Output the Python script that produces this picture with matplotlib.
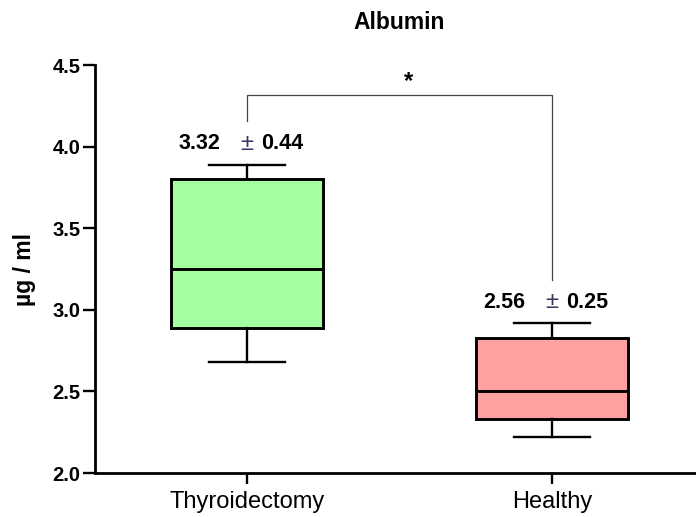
import matplotlib.pyplot as plt

plt.rcParams['font.family'] = ['Liberation Sans', 'DejaVu Sans']

# Data
groups = ['Thyroidectomy', 'Healthy']
whisker_low = [2.68, 2.22]
q1 = [2.89, 2.33]
medians = [3.25, 2.50]
q3 = [3.80, 2.83]
whisker_high = [3.89, 2.92]
means = ['3.32', '2.56']
sds = ['0.44', '0.25']
box_colors = ['#a3ff9f', '#ffa1a1']

bracket_top = 4.316
leg_gap = 0.265

fig = plt.figure(figsize=(6.96, 5.17), dpi=100)
ax = fig.add_axes([0.1365, 0.0851, 0.8635, 0.789])

stats = []
for i in range(len(groups)):
    stats.append({'whislo': whisker_low[i], 'q1': q1[i], 'med': medians[i],
                  'q3': q3[i], 'whishi': whisker_high[i], 'label': groups[i]})

bp = ax.bxp(stats, positions=[0, 1], widths=0.5, capwidths=0.25,
            showfliers=False, patch_artist=True,
            boxprops=dict(linewidth=2.1, edgecolor='black'),
            medianprops=dict(linewidth=2.1, color='black'),
            whiskerprops=dict(linewidth=1.7, color='black'),
            capprops=dict(linewidth=1.7, color='black'))
for patch, c in zip(bp['boxes'], box_colors):
    patch.set_facecolor(c)

# mean +- sd labels above each box
for i in range(len(groups)):
    ax.annotate(means[i], (i, whisker_high[i]), xytext=(-19, 15),
                textcoords='offset points', ha='right', va='center',
                fontsize=15.5, fontweight='bold')
    ax.annotate('\u00b1', (i, whisker_high[i]), xytext=(0, 15),
                textcoords='offset points', ha='center', va='center',
                fontsize=17, color='#3e3560')
    ax.annotate(sds[i], (i, whisker_high[i]), xytext=(10, 15),
                textcoords='offset points', ha='left', va='center',
                fontsize=15.5, fontweight='bold')

# significance bracket
ax.plot([0, 0, 1, 1],
        [whisker_high[0] + leg_gap, bracket_top, bracket_top, whisker_high[1] + leg_gap],
        color='#444444', linewidth=0.9, clip_on=False)
ax.text(0.528, 4.40, '*', ha='center', va='center', fontsize=17, fontweight='bold')

ax.set_xlim(-0.498, 1.472)
ax.set_ylim(2.0, 4.5)
ax.set_yticks([2.0, 2.5, 3.0, 3.5, 4.0, 4.5])
ax.set_yticklabels(['2.0', '2.5', '3.0', '3.5', '4.0', '4.5'], fontweight='bold', fontsize=14.5)
ax.set_xticks([0, 1])
ax.set_xticklabels(groups, fontsize=17)

for s in ['top', 'right']:
    ax.spines[s].set_visible(False)
ax.spines['left'].set_linewidth(2.0)
ax.spines['bottom'].set_linewidth(2.0)
ax.tick_params(axis='y', length=8.5, width=1.7, pad=2)
ax.tick_params(axis='x', length=8, width=1.7, pad=5)

ax.set_ylabel('\u00b5g / ml', fontsize=16.5, fontweight='bold', labelpad=12)
fig.text(0.573, 0.957, 'Albumin', ha='center', va='center', fontsize=16.5, fontweight='bold')

fig.savefig('out.png', dpi=100)
